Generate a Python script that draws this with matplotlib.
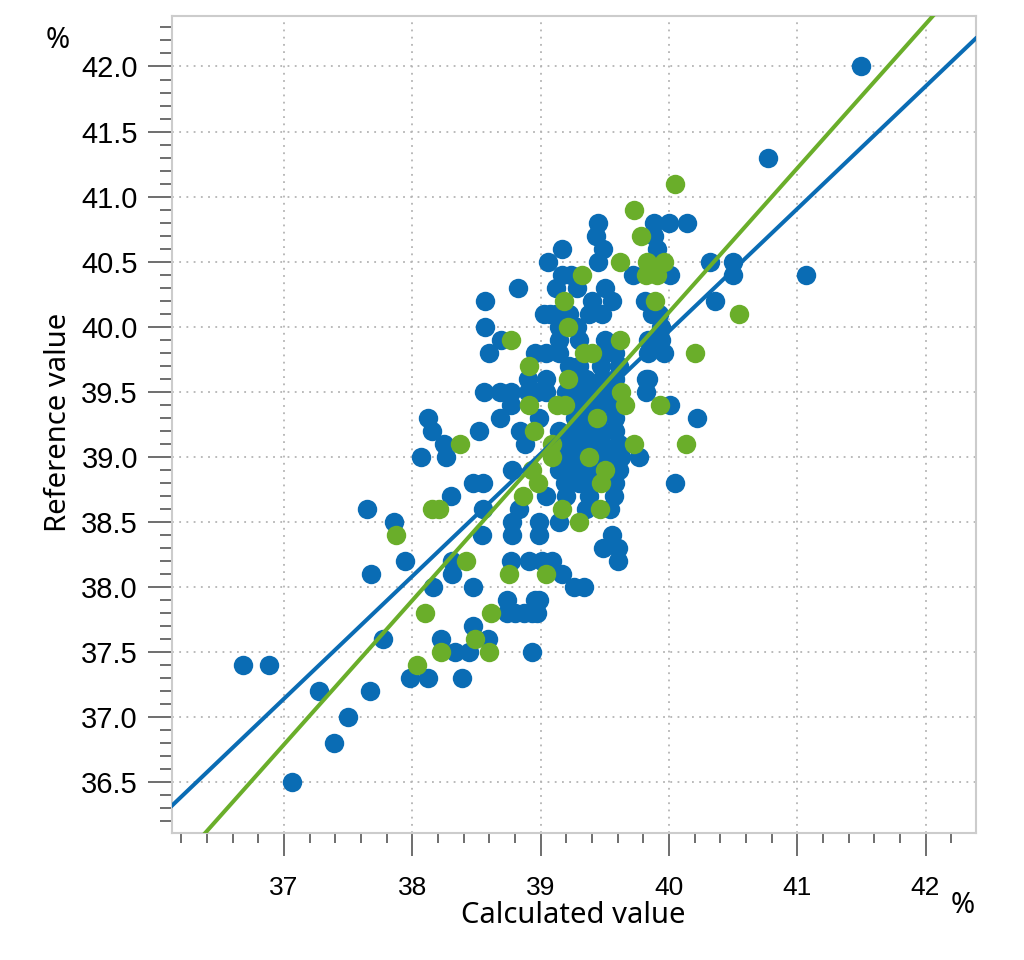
import numpy as np
import matplotlib
matplotlib.use("Agg")
import matplotlib.pyplot as plt
from matplotlib.ticker import MultipleLocator

# reference values (rows) and the calculated values found on each row
blue_ref = [42.0, 41.3, 40.8, 40.7, 40.6, 40.5, 40.4, 40.3, 40.2, 40.1, 40.0,
            39.9, 39.8, 39.7, 39.6, 39.5, 39.4, 39.3, 39.2, 39.1, 39.0, 38.9,
            38.8, 38.7, 38.6, 38.5, 38.4, 38.3, 38.2, 38.1, 38.0, 37.9, 37.8,
            37.7, 37.6, 37.5, 37.4, 37.3, 37.2, 37.0, 36.8, 36.5]
blue_calc = [
    [41.50],
    [40.77],
    [39.45, 39.88, 40.00, 40.14],
    [39.43, 39.88],
    [39.17, 39.49, 39.91],
    [39.06, 39.45, 40.32, 40.50],
    [39.17, 39.24, 39.72, 40.01, 40.50, 41.07],
    [38.82, 39.12, 39.28, 39.50],
    [38.57, 39.40, 39.56, 39.81, 40.36],
    [39.03, 39.07, 39.12, 39.22, 39.38, 39.48, 39.87, 39.92],
    [38.57, 39.14, 39.28, 39.94],
    [38.69, 39.14, 39.30, 39.50, 39.84, 39.94],
    [38.60, 38.96, 39.04, 39.14, 39.50, 39.58, 39.84, 39.96],
    [39.22, 39.30, 39.47, 39.61],
    [38.90, 39.04, 39.25, 39.35, 39.48, 39.58, 39.82, 39.84],
    [38.56, 38.68, 38.77, 38.90, 38.97, 39.04, 39.20, 39.32, 39.43, 39.53, 39.82],
    [38.77, 39.25, 39.35, 39.45, 39.55, 40.01],
    [38.12, 38.68, 38.99, 39.27, 39.35, 39.45, 39.58, 40.22],
    [38.15, 38.52, 38.84, 39.14, 39.25, 39.38, 39.48, 39.58],
    [38.25, 38.88, 39.20, 39.30, 39.38, 39.48, 39.61],
    [38.07, 38.26, 39.14, 39.25, 39.40, 39.50, 39.58, 39.63, 39.77],
    [38.78, 39.14, 39.22, 39.32, 39.42, 39.57, 39.61],
    [38.47, 38.55, 39.19, 39.30, 39.40, 39.56, 39.58, 40.05],
    [38.30, 39.04, 39.20, 39.38, 39.57],
    [37.65, 38.55, 38.83, 39.35, 39.54],
    [37.86, 38.78, 38.99, 39.14],
    [38.54, 38.78, 38.99, 39.56],
    [39.49, 39.60],
    [37.94, 38.31, 38.77, 38.91, 39.01, 39.09, 39.60],
    [37.68, 38.31, 39.17],
    [38.16, 38.47, 39.26, 39.34],
    [38.74, 38.96, 38.99],
    [38.74, 38.80, 38.87, 38.93, 38.97],
    [38.47],
    [37.77, 38.22, 38.59],
    [38.33, 38.44, 38.93],
    [36.68, 36.88],
    [37.98, 38.12, 38.39],
    [37.27, 37.67],
    [37.50],
    [37.39],
    [37.06],
]

green_ref = [41.1, 40.9, 40.7, 40.5, 40.4, 40.2, 40.1, 40.0, 39.9, 39.8, 39.7,
             39.6, 39.5, 39.4, 39.3, 39.2, 39.1, 39.0, 38.9, 38.8, 38.7, 38.6,
             38.5, 38.4, 38.2, 38.1, 37.8, 37.6, 37.5, 37.4]
green_calc = [
    [40.05],
    [39.73],
    [39.78],
    [39.62, 39.83, 39.96],
    [39.32, 39.82, 39.91],
    [39.18, 39.89],
    [40.55],
    [39.21],
    [38.77, 39.62],
    [39.34, 39.40, 40.20],
    [38.91],
    [39.21],
    [39.63],
    [38.91, 39.13, 39.19, 39.66, 39.93],
    [39.44],
    [38.95],
    [38.37, 39.09, 39.73, 40.13],
    [39.09, 39.38],
    [38.93, 39.50],
    [38.98, 39.47],
    [38.86],
    [38.15, 38.21, 39.17, 39.46],
    [39.30],
    [37.87],
    [38.42],
    [38.75, 39.04],
    [38.10, 38.61],
    [38.49],
    [38.22, 38.60],
    [38.04],
]

# regression lines (intercept, slope)
blue_fit = [2.325, 0.941]
green_fit = [-4.169, 1.107]

x_ticks = [37, 38, 39, 40, 41, 42]
y_ticks = [36.5, 37.0, 37.5, 38.0, 38.5, 39.0, 39.5, 40.0, 40.5, 41.0, 41.5, 42.0]

BLUE = "#0a6cb4"
GREEN = "#6aae2a"


def expand(refs, calcs):
    xs = np.concatenate([np.array(c, dtype=float) for c in calcs])
    ys = np.repeat(refs, [len(c) for c in calcs])
    return xs, ys


bx, by = expand(blue_ref, blue_calc)
gx, gy = expand(green_ref, green_calc)

fig = plt.figure(figsize=(10.24, 9.6), dpi=100)
ax = fig.add_axes([0.1677, 0.132, 0.785, 0.8516])

xlim = (36.125, 42.39)
ylim = (36.108, 42.39)

ax.plot(bx, by, "o", color=BLUE, ms=14, mew=0, zorder=3)
ax.plot(gx, gy, "o", color=GREEN, ms=14, mew=0, zorder=4)

xl = np.array(xlim)
ax.plot(xl, blue_fit[0] + blue_fit[1] * xl, color=BLUE, lw=2.9, zorder=5)
ax.plot(xl, green_fit[0] + green_fit[1] * xl, color=GREEN, lw=2.9, zorder=5)

ax.set_xlim(xlim)
ax.set_ylim(ylim)

ax.xaxis.set_major_locator(MultipleLocator(1))
ax.xaxis.set_minor_locator(MultipleLocator(0.2))
ax.yaxis.set_major_locator(MultipleLocator(0.5))
ax.yaxis.set_minor_locator(MultipleLocator(0.1))
ax.set_xticks(x_ticks)
ax.set_yticks(y_ticks)
ax.set_xticklabels([str(t) for t in x_ticks], fontsize=19, family="Liberation Sans")
ax.set_yticklabels(["%.1f" % t for t in y_ticks], fontsize=21, family="Liberation Sans")

# tick lengths are in points (px * 0.72)
ax.tick_params(axis="both", which="major", direction="out", color="#6e6e6e", width=1.4)
ax.tick_params(axis="x", which="major", length=16.5, pad=14)
ax.tick_params(axis="y", which="major", length=17.3, pad=7)
ax.tick_params(axis="x", which="minor", direction="out", color="#6e6e6e", width=1.4, length=7.2)
ax.tick_params(axis="y", which="minor", direction="out", color="#6e6e6e", width=1.4, length=8.6)

ax.grid(True, which="major", linestyle=(0, (1, 3)), color="#b4b4b4", linewidth=1.3)
ax.set_axisbelow(True)
for s in ax.spines.values():
    s.set_color("#cccccc")
    s.set_linewidth(1.5)

fig.text(0.560, 0.046, "Calculated value", fontsize=21, family="Noto Sans",
         ha="center", va="center")
fig.text(0.057, 0.5604, "Reference value", fontsize=21, family="Noto Sans",
         ha="center", va="center", rotation=90)
fig.text(0.056, 0.958, "%", fontsize=21, family="Noto Sans", ha="center", va="center")
fig.text(0.940, 0.057, "%", fontsize=21, family="Noto Sans", ha="center", va="center")

fig.savefig("out.png", dpi=100)
